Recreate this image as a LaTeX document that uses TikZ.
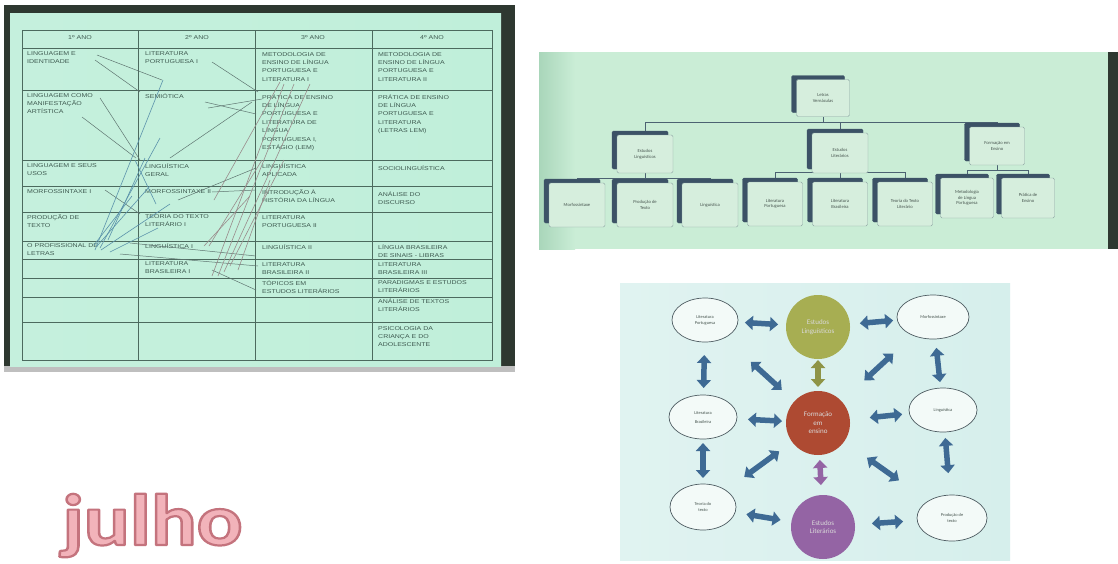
\documentclass[tikz,border=0pt]{standalone}
\usepackage{fontspec}
\setmainfont{Liberation Sans}
\newfontfamily\calfont{Carlito}
\newfontfamily\tabfont[FakeStretch=1.25]{Liberation Sans}
\usetikzlibrary{arrows.meta,shadows,shapes.geometric,calc}
\definecolor{frame}{HTML}{2E3830}
\definecolor{mint}{HTML}{C0EFDA}
\definecolor{tabline}{HTML}{4C6A5E}
\definecolor{tabtext}{HTML}{3E5A50}
\definecolor{crossblue}{HTML}{5A92AA}
\definecolor{crossrose}{HTML}{9A8C8C}
\definecolor{crossgrey}{HTML}{5E7470}
\definecolor{orgbgL}{HTML}{A9D6BA}
\definecolor{orgbgR}{HTML}{CAEDD6}
\definecolor{boxfill}{HTML}{D6EEDD}
\definecolor{boxedge}{HTML}{8EA6A4}
\definecolor{boxshadow}{HTML}{3C5266}
\definecolor{boxtext}{HTML}{46544E}
\definecolor{orgline}{HTML}{4C6272}
\definecolor{cycbg}{HTML}{D6EFEC}
\definecolor{arrowblue}{HTML}{3E6A94}
\definecolor{olive}{HTML}{A7AE52}
\definecolor{brick}{HTML}{AE4A32}
\definecolor{violet}{HTML}{9464A4}
\definecolor{ellfill}{HTML}{F3FAF8}
\definecolor{elledge}{HTML}{4E5C62}
\definecolor{pinkfill}{HTML}{F2B3BA}
\pgfdeclarelayer{bg}
\pgfdeclarelayer{mid}
\pgfsetlayers{bg,mid,main}
\newcommand\outlinedtext[1]{\special{pdf:literal direct 2 Tr 2.2 w 1 j 0.77 0.45 0.49 RG}#1\special{pdf:literal direct 0 Tr}}
\begin{document}
\begin{tikzpicture}[x=1pt,y=-1pt,
  tcell/.style={anchor=north west, inner sep=0pt, align=left, text=tabtext,
    font=\tabfont\fontsize{5.6}{8.4}\selectfont},
  thead/.style={anchor=center, inner sep=0pt, text=tabtext,
    font=\tabfont\fontsize{5.6}{8.4}\selectfont},
  tline/.style={draw=tabline, line width=0.8pt},
  xb/.style={draw=crossblue, line width=0.6pt},
  xr/.style={draw=crossrose, line width=0.6pt},
  xg/.style={draw=crossgrey, line width=0.5pt},
  obox/.style={draw=boxedge, fill=boxfill, rounded corners=1.5pt, line width=0.4pt,
    copy shadow={shadow xshift=-5pt, shadow yshift=4pt, fill=boxshadow, draw=boxshadow},
    font=\calfont\fontsize{4.6}{5.6}\selectfont, text=boxtext, align=center, inner sep=1pt},
  oline/.style={draw=orgline, line width=0.8pt},
  ell/.style={ellipse, draw=elledge, fill=ellfill, line width=0.7pt, inner sep=0pt,
    font=\calfont\fontsize{4.4}{6}\selectfont, text=boxtext, align=center},
  ball/.style={circle, minimum size=64pt, inner sep=0pt, text=white!85!black,
    font=\calfont\fontsize{7}{8.5}\selectfont, align=center},
  dbl/.style={draw=arrowblue, line width=5.5pt,
    {Triangle[length=8pt,width=14pt]}-{Triangle[length=8pt,width=14pt]}},
  jul/.style={anchor=base west, inner sep=0pt, text depth=0pt, font=\calfont\bfseries\fontsize{73}{73}\selectfont}
]
\useasboundingbox (0,0) rectangle (1118,563);
\begin{pgfonlayer}{bg}
\fill[white] (0,0) rectangle (1118,563);
\end{pgfonlayer}

% ================= table photo =================
\fill[frame] (4,5) rectangle (515,367);
\fill[black!25] (4,366) rectangle (515,372);
\shade[left color=mint!92!white, right color=mint] (10,13) rectangle (501,366);

\draw[tline] (22,30) rectangle (492,360);
\foreach \x in {138,255,372} \draw[tline] (\x,30) -- (\x,360);
\foreach \y in {48,90,160,186,212,241,259,278,297,322} \draw[tline] (22,\y) -- (492,\y);

\node[thead] (h1) at (80,38) {1º ANO};
\node[thead] (h2) at (197,38) {2º ANO};
\node[thead] (h3) at (313,38) {3º ANO};
\node[thead] (h4) at (432,38) {4º ANO};

\node[tcell] (a1) at (27,51) {LINGUAGEM E\\IDENTIDADE};
\node[tcell] (a2) at (27,93) {LINGUAGEM COMO\\MANIFESTAÇÃO\\ARTÍSTICA};
\node[tcell] (a3) at (27,163) {LINGUAGEM E SEUS\\USOS};
\node[tcell] (a4) at (27,189) {MORFOSSINTAXE I};
\node[tcell] (a5) at (27,214) {PRODUÇÃO DE\\TEXTO};
\node[tcell] (a6) at (27,243) {O PROFISSIONAL DE\\LETRAS};

\node[tcell] (b1) at (145,51) {LITERATURA\\PORTUGUESA I};
\node[tcell] (b2) at (145,93) {SEMIÓTICA};
\node[tcell] (b3) at (145,163) {LINGUÍSTICA\\GERAL};
\node[tcell] (b4) at (145,189) {MORFOSSINTAXE II};
\node[tcell] (b5) at (145,214) {TEORIA DO TEXTO\\LITERÁRIO I};
\node[tcell] (b6) at (145,243) {LINGUÍSTICA I};
\node[tcell] (b7) at (145,261) {LITERATURA\\BRASILEIRA I};

\node[tcell] (c1) at (262,52) {METODOLOGIA DE\\ENSINO DE LÍNGUA\\PORTUGUESA E\\LITERATURA I};
\node[tcell] (c2) at (262,94) {PRÁTICA DE ENSINO\\DE LÍNGUA\\PORTUGUESA E\\LITERATURA DE\\LÍNGUA\\PORTUGUESA I,\\ESTÁGIO (LEM)};
\node[tcell] (c3) at (262,163) {LINGUÍSTICA\\APLICADA};
\node[tcell] (c4) at (262,189) {INTRODUÇÃO À\\HISTÓRIA DA LÍNGUA};
\node[tcell] (c5) at (262,215) {LITERATURA\\PORTUGUESA II};
\node[tcell] (c6) at (262,244) {LINGUÍSTICA II};
\node[tcell] (c7) at (262,262) {LITERATURA\\BRASILEIRA II};
\node[tcell] (c8) at (262,280) {TÓPICOS EM\\ESTUDOS LITERÁRIOS};

\node[tcell] (d1) at (378,52) {METODOLOGIA DE\\ENSINO DE LÍNGUA\\PORTUGUESA E\\LITERATURA II};
\node[tcell] (d2) at (378,94) {PRÁTICA DE ENSINO\\DE LÍNGUA\\PORTUGUESA E\\LITERATURA\\(LETRAS LEM)};
\node[tcell] (d3) at (378,165) {SOCIOLINGUÍSTICA};
\node[tcell] (d4) at (378,191) {ANÁLISE DO\\DISCURSO};
\node[tcell] (d6) at (378,244) {LÍNGUA BRASILEIRA\\DE SINAIS - LIBRAS};
\node[tcell] (d7) at (378,262) {LITERATURA\\BRASILEIRA III};
\node[tcell] (d8) at (378,280) {PARADIGMAS E ESTUDOS\\LITERÁRIOS};
\node[tcell] (d9) at (378,298) {ANÁLISE DE TEXTOS\\LITERÁRIOS};
\node[tcell] (d10) at (378,326) {PSICOLOGIA DA\\CRIANÇA E DO\\ADOLESCENTE};

% hand-drawn crossing lines
\draw[xg] (97,55) -- (162,80);
\draw[xg] (95,60) -- (140,92);
\draw[xg] (212,62) -- (258,92);
\draw[xg] (205,102) -- (256,114);
\draw[xg] (208,108) -- (262,99);
\draw[xg] (82,117) -- (136,158);
\draw[xg] (100,98) -- (140,160);
\draw[xg] (170,158) -- (252,102);
\draw[xg] (178,200) -- (256,168);
\draw[xg] (212,192) -- (256,190);
\draw[xg] (105,190) -- (140,214);
\draw[xg] (130,243) -- (256,256);
\draw[xg] (120,254) -- (258,266);
\draw[xg] (212,270) -- (256,290);
\draw[xb] (95,250) -- (163,80);
\draw[xb] (100,248) -- (160,138);
\draw[xb] (97,246) -- (150,186);
\draw[xb] (94,245) -- (132,196);
\draw[xb] (101,250) -- (170,204);
\draw[xb] (108,240) -- (145,158);
\draw[xb] (135,160) -- (156,204);
\draw[xb] (110,252) -- (158,228);
\draw[xr] (212,276) -- (284,84);
\draw[xr] (218,276) -- (294,84);
\draw[xr] (224,272) -- (310,84);
\draw[xr] (230,266) -- (284,160);
\draw[xr] (214,200) -- (280,82);
\draw[xr] (209,246) -- (262,160);
\draw[xr] (238,270) -- (270,180);
\draw[xr] (204,246) -- (250,196);

% ================= org chart photo =================
\begin{pgfonlayer}{bg}
\fill[orgbgR] (539,52) rectangle (1108,249);
\shade[left color=orgbgL, right color=orgbgR] (539,52) rectangle (575,249);
\fill[frame] (1108,52) rectangle (1118,249);
\end{pgfonlayer}

\node[obox, minimum width=53pt, minimum height=37pt] (T) at (823,98) {Letras\\Vernáculas};
\node[obox, minimum width=56pt, minimum height=38pt] (A) at (645,154) {Estudos\\Linguísticos};
\node[obox, minimum width=56pt, minimum height=40pt] (B) at (840,153) {Estudos\\Literários};
\node[obox, minimum width=55pt, minimum height=38pt] (C) at (997,146) {Formação em\\Ensino};

\node[obox, minimum width=56pt, minimum height=44pt] (L1) at (577,205) {Morfossintaxe};
\node[obox, minimum width=56pt, minimum height=44pt] (L2) at (645,205) {Produção de\\Texto};
\node[obox, minimum width=56pt, minimum height=44pt] (L3) at (710,205) {Linguística};
\node[obox, minimum width=55pt, minimum height=44pt] (L4) at (775,204) {Literatura\\Portuguesa};
\node[obox, minimum width=55pt, minimum height=44pt] (L5) at (840,204) {Literatura\\Brasileira};
\node[obox, minimum width=55pt, minimum height=44pt] (L6) at (905,204) {Teoria do Texto\\Literário};
\node[obox, minimum width=53pt, minimum height=40pt] (L7) at (967,198) {Metodologia\\de Língua\\Portuguesa};
\node[obox, minimum width=53pt, minimum height=40pt] (L8) at (1028,198) {Prática de\\Ensino};

\coordinate (bus0) at (0,122);
\coordinate (busA) at (0,178);
\coordinate (busB) at (0,172);
\coordinate (busC) at (0,170);
\begin{pgfonlayer}{mid}
\draw[oline] (T.south) -- (T.south |- bus0);
\draw[oline] (A.north) -- (A.north |- bus0) -- (C.north |- bus0) -- (C.north);
\draw[oline] (B.north) -- (B.north |- bus0);
\draw[oline] (A.south) -- (A.south |- busA);
\draw[oline] (L1.north) -- (L1.north |- busA) -- (L3.north |- busA) -- (L3.north);
\draw[oline] (L2.north) -- (L2.north |- busA);
\draw[oline] (B.south) -- (B.south |- busB);
\draw[oline] (L4.north) -- (L4.north |- busB) -- (L6.north |- busB) -- (L6.north);
\draw[oline] (L5.north) -- (L5.north |- busB);
\draw[oline] (C.south) -- (C.south |- busC);
\draw[oline] (L7.north) -- (L7.north |- busC) -- (L8.north |- busC) -- (L8.north);
\end{pgfonlayer}

% ================= cycle photo =================
\begin{pgfonlayer}{bg}
\shade[left color=cycbg!75!white, right color=cycbg] (620,283) rectangle (1010,560);
\end{pgfonlayer}

\node[ball, fill=olive] (G) at (818,327) {Estudos\\Linguísticos};
\node[ball, fill=brick] (R) at (818,423) {Formação\\em\\ensino};
\node[ball, fill=violet] (P) at (823,527) {Estudos\\Literários};

\node[ell, minimum width=66pt, minimum height=44pt] (TL) at (705,320) {Literatura\\Portuguesa};
\node[ell, minimum width=72pt, minimum height=44pt] (TR) at (933,317) {Morfossintaxe};
\node[ell, minimum width=68pt, minimum height=44pt] (ML) at (703,417) {Literatura\\[3pt]Brasileira};
\node[ell, minimum width=68pt, minimum height=44pt] (MR) at (943,410) {Linguística};
\node[ell, minimum width=66pt, minimum height=46pt] (BL) at (703,507) {Teoria do\\texto};
\node[ell, minimum width=70pt, minimum height=46pt] (BR) at (952,518) {Produção de\\texto};

\draw[dbl, shorten <=40pt, shorten >=40pt] (TL.center) -- (G.center);
\draw[dbl, shorten <=42pt, shorten >=40pt] (G.center) -- (TR.center);
\draw[dbl, shorten <=35pt, shorten >=29pt] (TL.center) -- (ML.center);
\draw[dbl, shorten <=31pt, shorten >=28pt] (TR.center) -- (MR.center);
\draw[dbl, shorten <=45pt, shorten >=36pt] (ML.center) -- (R.center);
\draw[dbl, shorten <=52pt, shorten >=41pt] (R.center) -- (MR.center);
\draw[dbl, shorten <=26pt, shorten >=29pt] (ML.center) -- (BL.center);
\draw[dbl, shorten <=28pt, shorten >=45pt] (MR.center) -- (BR.center);
\draw[dbl, shorten <=44pt, shorten >=43pt] (BL.center) -- (P.center);
\draw[dbl, shorten <=49pt, shorten >=49pt] (P.center) -- (BR.center);
\draw[dbl, shorten <=62pt, shorten >=49pt] (TL.center) -- (R.center);
\draw[dbl, shorten <=54pt, shorten >=63pt] (TR.center) -- (R.center);
\draw[dbl, shorten <=51pt, shorten >=48pt] (BL.center) -- (R.center);
\draw[dbl, shorten <=65pt, shorten >=60pt] (BR.center) -- (R.center);
\draw[dbl, draw=olive!85!black, shorten <=33pt, shorten >=36pt] (G.center) -- (R.center);
\draw[dbl, draw=violet, shorten <=37pt, shorten >=42pt] (R.center) -- (P.center);

% ================= julho =================
\node[jul, text=pinkfill] (J) at (62,545) {\scalebox{1.17}[1]{\outlinedtext{julho}}};
\end{tikzpicture}
\end{document}
